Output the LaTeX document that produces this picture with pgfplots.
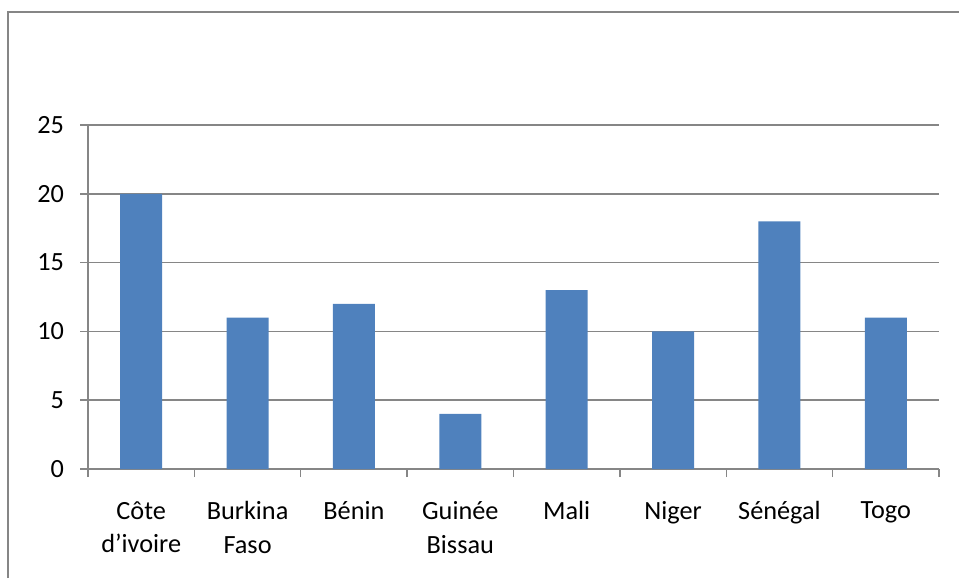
\documentclass[border=0pt]{standalone}
\usepackage{pgfplots}
\pgfplotsset{compat=1.18}
\usepackage{fontspec}
\setmainfont{Carlito}
\definecolor{barblue}{RGB}{79,129,189}
\definecolor{linegray}{RGB}{134,134,134}
\begin{document}
\begin{tikzpicture}
  % page = 959x578 px, 1px = 0.75pt, origin at top left
  \path[use as bounding box] (0,0) rectangle (719.25pt,-433.5pt);
  \draw[linegray, line width=1pt] (6pt,-433.5pt) -- (6pt,-9pt) -- (719.25pt,-9pt);
  \begin{axis}[
      at={(66pt,-351.75pt)}, anchor=south west,
      scale only axis,
      width=638.25pt, height=258pt,
      ybar, bar width=31.5pt,
      xmin=-0.5, xmax=7.5,
      ymin=0, ymax=25,
      ytick={0,5,...,25},
      axis x line*=bottom, axis y line*=left,
      axis line style={-, draw=linegray, line width=1.1pt},
      ymajorgrids=true,
      grid style={draw=linegray, line width=1.1pt},
      tick align=outside,
      major tick length=6pt,
      minor tick length=6pt,
      tick style={draw=linegray, line width=1.1pt},
      xtick={0,...,7},
      major x tick style={draw=none},
      minor xtick={-0.5,0.5,...,7.5},
      xticklabels={C\^ote\\d’ivoire, Burkina\\Faso, B\'enin, Guin\'ee\\Bissau, Mali, Niger, S\'en\'egal, Togo},
      xticklabel style={align=center, font=\fontsize{19.7pt}{25pt}\selectfont, yshift=-15pt},
      yticklabel style={font=\fontsize{19.7pt}{25pt}\selectfont, xshift=-8.5pt},
      /pgf/number format/assume math mode=true,
    ]
    \addplot[fill=barblue, draw=none] coordinates {(0,20) (1,11) (2,12) (3,4) (4,13) (5,10) (6,18) (7,11)};
  \end{axis}
\end{tikzpicture}
\end{document}
